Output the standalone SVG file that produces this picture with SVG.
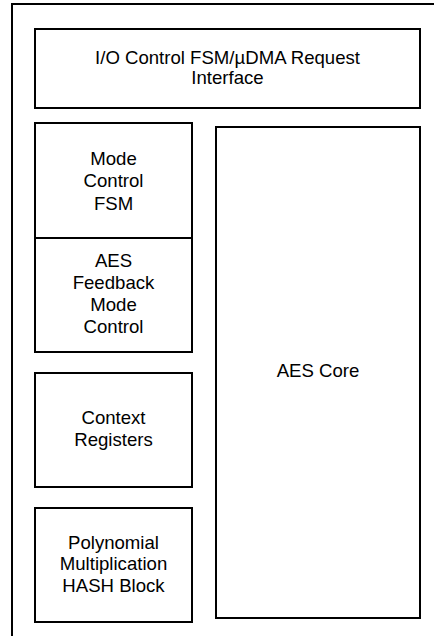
<svg xmlns="http://www.w3.org/2000/svg" width="434" height="636" viewBox="0 0 434 636">
<style>
.box{fill:#fff;stroke:#000;stroke-width:2}
.frame{fill:none;stroke:#000;stroke-width:2}
text{font-family:"Liberation Sans",Arial,Helvetica,sans-serif;font-size:18.6px;fill:#000;text-anchor:middle}
</style>
<rect width="434" height="636" fill="#fff"/>
<path class="frame" d="M12,636 V4 H434"/>
<g id="io-control">
<rect class="box" x="35" y="29" width="385" height="79"/>
<text x="227.5" y="63.5">I/O Control FSM/µDMA Request</text>
<text x="227.5" y="84">Interface</text>
</g>
<g id="mode-control">
<rect class="box" x="35" y="123" width="157" height="115"/>
<text x="113.5" y="165">Mode</text>
<text x="113.5" y="187.3">Control</text>
<text x="113.5" y="209.5">FSM</text>
</g>
<g id="aes-feedback">
<rect class="box" x="35" y="238" width="157" height="114"/>
<text x="113.5" y="266.7">AES</text>
<text x="113.5" y="289">Feedback</text>
<text x="113.5" y="311">Mode</text>
<text x="113.5" y="333.3">Control</text>
</g>
<g id="context-registers">
<rect class="box" x="35" y="373" width="157" height="114"/>
<text x="113.5" y="423.5">Context</text>
<text x="113.5" y="446">Registers</text>
</g>
<g id="poly-hash">
<rect class="box" x="35" y="508" width="157" height="114"/>
<text x="113.5" y="548.5">Polynomial</text>
<text x="113.5" y="570.3">Multiplication</text>
<text x="113.5" y="592">HASH Block</text>
</g>
<g id="aes-core">
<rect class="box" x="216" y="127" width="204" height="491"/>
<text x="318" y="377">AES Core</text>
</g>
<g id="connectors"></g>
</svg>
